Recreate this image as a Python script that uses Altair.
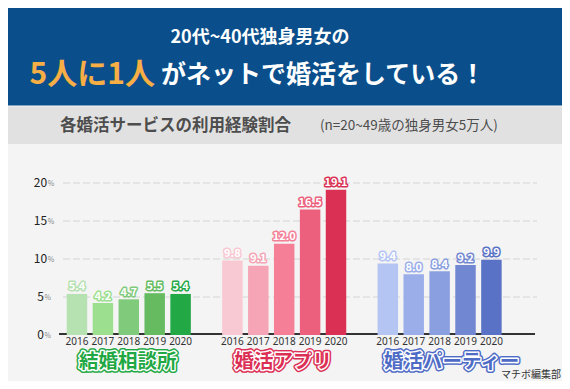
import altair as alt
import pandas as pd

# ---------------- data ----------------
groups = ["結婚相談所", "婚活アプリ", "婚活パーティー"]
years = ["2016", "2017", "2018", "2019", "2020"]
soudan = [5.4, 4.2, 4.7, 5.5, 5.4]
apuri = [9.8, 9.1, 12.0, 16.5, 19.1]
party = [9.4, 8.0, 8.4, 9.2, 9.9]
y_ticks = [0, 5, 10, 15, 20]

header1 = "20代~40代独身男女の"
header2a = "5人に1人"
header2b = "がネットで婚活をしている！"
subtitle = "各婚活サービスの利用経験割合"
subnote = "(n=20~49歳の独身男女5万人)"
credit = "マチボ編集部"

# ---------------- styles ----------------
green = ["#b6e1b1", "#9cdf8f", "#80ca7b", "#66bb60", "#22a845"]
pink = ["#f9c9d3", "#f5a5b5", "#f47f96", "#ec5f7d", "#da3053"]
blue = ["#b4c4f3", "#9baeea", "#8a9fe0", "#7287d2", "#5a72c5"]
title_colors = ["#1fa843", "#dc2f55", "#4e6bc6"]
FONT = "Noto Sans CJK JP"

series = [soudan, apuri, party]
palettes = [green, pink, blue]
rows = []
domain = []
for gi, g in enumerate(groups):
    for yi, yr in enumerate(years):
        key = f"{g} {yr}"
        rows.append({"key": key, "group": g, "year": yr,
                     "value": series[gi][yi], "color": palettes[gi][yi]})
        domain.append(key)
    if gi < len(groups) - 1:
        domain.append(f"_gap{gi}")
df = pd.DataFrame(rows)

W, H = 480, 152
xscale = alt.Scale(domain=domain, range=[6.75, 441.65], paddingInner=0.21, paddingOuter=0)
yscale = alt.Scale(domain=[0, 20], nice=False, zero=True)
X = alt.X("key:N", scale=xscale, axis=None)
Y = alt.Y("value:Q", scale=yscale, axis=None)

one = pd.DataFrame({"a": [0]})

# background bands
blue_band = alt.Chart(one).mark_rect(color="#0a4f8b").encode(
    x=alt.value(-52), x2=alt.value(502), y=alt.value(-175), y2=alt.value(-77.5))
gray_band = alt.Chart(one).mark_rect(color="#e1e1e1").encode(
    x=alt.value(-52), x2=alt.value(502), y=alt.value(-76.5), y2=alt.value(-39))

def txt(label, x, y, **kw):
    return alt.Chart(pd.DataFrame({"label": [label]})).mark_text(font=FONT, **kw).encode(
        text="label:N", x=alt.value(x), y=alt.value(y))

h1 = txt(header1, 200, -145, fontSize=18, fontWeight="bold", color="white", align="center", baseline="middle")
h2a = txt(header2a, 95, -108, fontSize=30, fontWeight="bold", color="#f6ae45", align="right", baseline="middle")
h2b = txt(header2b, 101, -108, fontSize=25, fontWeight="bold", color="white", align="left", baseline="middle")
sub1 = txt(subtitle, 0, -57, fontSize=16.5, fontWeight="bold", color="#4d4d4d", align="left", baseline="middle")
sub2 = txt(subnote, 260, -57, fontSize=13.5, fontWeight="normal", color="#4d4d4d", align="left", baseline="middle")
cred = txt(credit, 501, 192, fontSize=10, color="#333333", align="right", baseline="middle")

# grid and axis
ticks_df = pd.DataFrame({"t": y_ticks})
grid = alt.Chart(ticks_df).transform_filter("datum.t > 0").mark_rule(
    color="#dedede", strokeWidth=1.5, strokeDash=[7, 3]).encode(
    y=alt.Y("t:Q", scale=yscale, axis=None), x=alt.value(3), x2=alt.value(477))
axis_line = alt.Chart(one).mark_rule(color="#333333", strokeWidth=2).encode(
    y=alt.value(H - 1), x=alt.value(-1), x2=alt.value(475))

ylab_num = alt.Chart(ticks_df).mark_text(font=FONT, fontSize=12, color="#222222",
                                         align="center", baseline="middle").encode(
    y=alt.Y("t:Q", scale=yscale, axis=None), x=alt.value(-19.5), text="t:Q")
ylab_pct = alt.Chart(ticks_df).transform_calculate(
    px="-19.5 + 3.4 * length(toString(datum.t)) + 0.5", pct="'%'").mark_text(
    font=FONT, fontSize=7, color="#888888", align="left", baseline="middle", dy=1).encode(
    y=alt.Y("t:Q", scale=yscale, axis=None), x=alt.X("px:Q", scale=None), text="pct:N")

# bars
bars = alt.Chart(df).mark_bar().encode(x=X, y=Y, color=alt.Color("color:N", scale=None))

val_outline = alt.Chart(df).mark_text(font=FONT, fontSize=11, fontWeight="bold", baseline="bottom",
                                      dy=-1.5, strokeWidth=3, strokeJoin="round").encode(
    x=X, y=Y, text=alt.Text("value:Q", format=".1f"),
    stroke=alt.Stroke("color:N", scale=None), fill=alt.Fill("color:N", scale=None))
val_fill = alt.Chart(df).mark_text(font=FONT, fontSize=11, fontWeight="bold", baseline="bottom",
                                   dy=-1.5, color="white").encode(
    x=X, y=Y, text=alt.Text("value:Q", format=".1f"))

year_lab = alt.Chart(df).mark_text(font="Noto Sans", fontSize=10, color="#333333", baseline="middle").encode(
    x=X, y=alt.value(H + 6.5), text="year:N")

# group titles (anchored under the middle year of each group)
tdf = pd.DataFrame({"key": [f"{g} {years[2]}" for g in groups], "group": groups,
                    "col": title_colors})

def title_layers(data, dx):
    base = alt.Chart(data)
    enc = dict(x=alt.X("key:N", scale=xscale, axis=None), y=alt.value(178.5), text="group:N")
    kw = dict(font=FONT, fontSize=19.5, fontWeight="bold", baseline="middle", dx=dx)
    outer = base.mark_text(strokeWidth=6, strokeJoin="round", **kw).encode(
        stroke=alt.Stroke("col:N", scale=None), fill=alt.Fill("col:N", scale=None), **enc)
    ring = base.mark_text(strokeWidth=3, strokeJoin="round", stroke="white", **kw).encode(
        fill=alt.Fill("col:N", scale=None), **enc)
    inner = base.mark_text(**kw).encode(fill=alt.Fill("col:N", scale=None), **enc)
    return [outer, ring, inner]

t_a = title_layers(tdf.iloc[:2], -1)
t_b = title_layers(tdf.iloc[2:], 12)

chart = alt.layer(
    blue_band, gray_band, h1, h2a, h2b, sub1, sub2,
    grid, axis_line, ylab_num, ylab_pct,
    bars, val_outline, val_fill, year_lab,
    *t_a, *t_b, cred,
).properties(
    width=W, height=H,
    autosize=alt.AutoSizeParams(type="none"),
    padding={"left": 52, "top": 175, "right": 22, "bottom": 46},
    background="#f4f4f4",
).configure_view(stroke=None)

chart.save("out.html", embed_options={"renderer": "svg", "actions": False})
